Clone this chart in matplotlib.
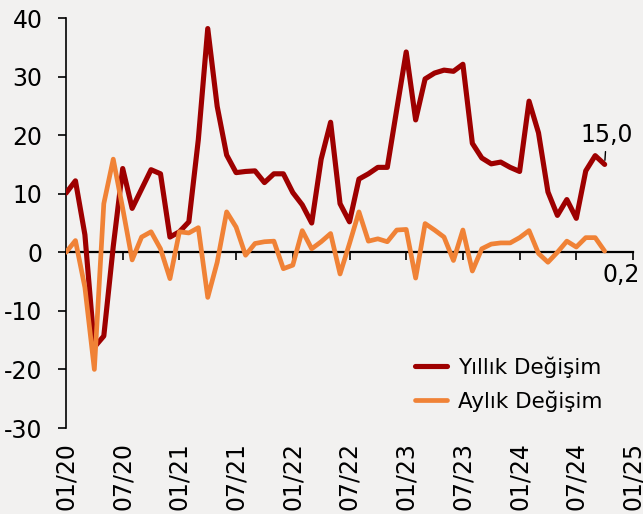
import matplotlib
matplotlib.use("Agg")
import matplotlib.pyplot as plt

months = list(range(58))
yillik = [10.1, 12.2, 3.0, -16.2, -14.3, 1.0, 14.3, 7.5, 10.8, 14.1,
          13.4, 2.6, 3.5, 5.2, 19.2, 38.2, 24.9, 16.6, 13.6, 13.8,
          13.9, 11.9, 13.4, 13.4, 10.2, 8.1, 5.0, 15.9, 22.2, 8.3,
          5.2, 12.5, 13.4, 14.5, 14.5, 24.4, 34.2, 22.6, 29.6, 30.6,
          31.1, 30.9, 32.1, 18.6, 16.1, 15.1, 15.4, 14.5, 13.8, 25.8,
          20.4, 10.3, 6.3, 9.0, 5.8, 13.9, 16.5, 15.0]
aylik = [0.0, 2.0, -6.0, -20.0, 8.3, 15.9, 7.5, -1.3, 2.6, 3.5,
         0.6, -4.5, 3.5, 3.3, 4.2, -7.7, -1.7, 6.9, 4.3, -0.5,
         1.5, 1.8, 1.9, -2.8, -2.2, 3.7, 0.6, 1.8, 3.2, -3.7,
         1.5, 6.9, 1.9, 2.3, 1.8, 3.8, 3.9, -4.4, 4.9, 3.8,
         2.6, -1.4, 3.8, -3.2, 0.6, 1.4, 1.6, 1.6, 2.5, 3.7,
         -0.2, -1.7, 0.0, 1.9, 0.9, 2.5, 2.5, 0.2]
tick_pos = [0, 6, 12, 18, 24, 30, 36, 42, 48, 54, 60]
tick_labels = ["01/20", "07/20", "01/21", "07/21", "01/22", "07/22",
               "01/23", "07/23", "01/24", "07/24", "01/25"]
y_ticks = [-30, -20, -10, 0, 10, 20, 30, 40]
series_names = ["Yıllık Değişim", "Aylık Değişim"]

bg = "#F2F1F0"
red = "#9E0000"
orange = "#F08236"

plt.rcParams['font.family'] = ['DejaVu Sans']
plt.rcParams['axes.unicode_minus'] = False
fig = plt.figure(figsize=(6.43, 5.14), dpi=100, facecolor=bg)
ax = fig.add_axes([66/643, 1-428/514, (633-66)/643, (428-18)/514])
ax.set_facecolor(bg)

ax.plot(months, yillik, color=red, lw=3.7, solid_joinstyle='round', solid_capstyle='round', label=series_names[0], zorder=3)
ax.plot(months, aylik, color=orange, lw=3.4, solid_joinstyle='round', solid_capstyle='round', label=series_names[1], zorder=4)

ax.set_xlim(0, 60)
ax.set_ylim(-30, 40)
ax.set_yticks(y_ticks)
ax.tick_params(axis='y', length=6, width=1.2, pad=11, labelsize=17, direction='out')

for s in ['top', 'right']:
    ax.spines[s].set_visible(False)
ax.spines['left'].set_linewidth(1.2)
ax.spines['bottom'].set_position(('data', 0))
ax.spines['bottom'].set_linewidth(1.6)
ax.spines['bottom'].set_zorder(2)
ax.set_xticks(tick_pos)
ax.set_xticklabels([])
ax.tick_params(axis='x', length=6, width=1.2, direction='out')

sec = ax.secondary_xaxis('bottom')
sec.set_xticks(tick_pos)
sec.set_xticklabels(tick_labels, rotation=90)
sec.tick_params(axis='x', length=0, pad=10, labelsize=17)
sec.spines['bottom'].set_visible(False)

ax.annotate("15,0", xy=(57, yillik[-1]), xytext=(57.2, 17.9), ha='center', va='bottom',
            fontsize=17, arrowprops=dict(arrowstyle='-', color='black', lw=1, shrinkA=1, shrinkB=3))
ax.text(58.7, -1.9, "0,2", ha='center', va='top', fontsize=17)

leg = ax.legend(loc='center left', bbox_to_anchor=(415/643, 1-384/514), bbox_transform=fig.transFigure,
                frameon=False, fontsize=15.5, handlelength=1.5, handletextpad=0.5,
                labelspacing=0.6, borderpad=0, borderaxespad=0)

fig.savefig("out.png", dpi=100, facecolor=bg)
